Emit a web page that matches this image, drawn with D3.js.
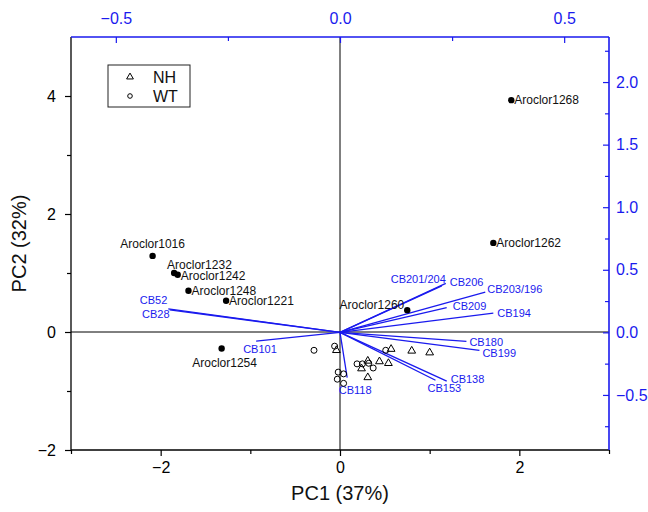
<!DOCTYPE html>
<html>
<head>
<meta charset="utf-8">
<style>
  body { margin: 0; background: #fff; }
  svg text { font-family: "Liberation Sans", Arial, sans-serif; }
</style>
<script src="https://cdn.jsdelivr.net/npm/d3@7"></script>
</head>
<body>
<script>
// ---- data (scores on PC1/PC2, loadings on top/right axes) ----
var scoreNames = ["Aroclor1268", "Aroclor1262", "Aroclor1016", "Aroclor1232", "Aroclor1242",
                  "Aroclor1248", "Aroclor1221", "Aroclor1254", "Aroclor1260"];
var scoreX = [1.91, 1.71, -2.09, -1.85, -1.81, -1.69, -1.27, -1.32, 0.75];
var scoreY = [3.93, 1.51, 1.29, 1.00, 0.97, 0.70, 0.53, -0.28, 0.37];

var nhX = [-0.04, 0.57, 0.24, 0.31, 0.44, 0.54, 0.31, 0.80, 1.00];
var nhY = [-0.31, -0.29, -0.62, -0.49, -0.50, -0.53, -0.77, -0.32, -0.35];
var wtX = [-0.29, -0.06, 0.51, -0.02, 0.04, -0.03, 0.04, 0.19, 0.25, 0.32, 0.37];
var wtY = [-0.31, -0.24, -0.31, -0.68, -0.71, -0.80, -0.87, -0.54, -0.54, -0.53, -0.61];

var loadNames = ["CB52", "CB28", "CB101", "CB118", "CB138", "CB153", "CB180", "CB199",
                 "CB194", "CB209", "CB203/196", "CB206", "CB201/204"];
var loadX = [-0.383, -0.380, -0.187, 0.016, 0.238, 0.213, 0.282, 0.311, 0.342, 0.238, 0.324, 0.236, 0.227];
var loadY = [0.188, 0.180, -0.070, -0.362, -0.390, -0.383, -0.072, -0.144, 0.154, 0.197, 0.322, 0.391, 0.371];

var bottomMajor = [-2, 0, 2], bottomMinor = [-3, -1, 1, 3];
var leftMajor = [-2, 0, 2, 4], leftMinor = [-1, 1, 3];
var topMajor = [-0.5, 0, 0.5], topMinor = [-0.25, 0.25];
var rightMajor = [-0.5, 0, 0.5, 1, 1.5, 2], rightMinor = [-0.75, -0.25, 0.25, 0.75, 1.25, 1.75, 2.25];

var blue = "#1a1aee";

var width = 648, height = 512;
var L = 71, R = 609, T = 37, B = 450;

var x = d3.scaleLinear().domain([-3, 3]).range([L, R]);
var y = d3.scaleLinear().domain([-2, 5]).range([B, T]);
var xT = d3.scaleLinear().domain([-0.6, 0.6]).range([L, R]);
var yR = d3.scaleLinear().domain([-0.94, 2.36]).range([B, T]);

var svg = d3.select("body").append("svg")
    .attr("width", width)
    .attr("height", height);

// zero lines
svg.append("line").attr("x1", L).attr("x2", R).attr("y1", y(0)).attr("y2", y(0))
    .attr("stroke", "#000").attr("stroke-width", 1);
svg.append("line").attr("x1", x(0)).attr("x2", x(0)).attr("y1", T).attr("y2", B)
    .attr("stroke", "#000").attr("stroke-width", 1);

// loadings
var lg = svg.append("g");
lg.selectAll("line").data(loadNames).enter().append("line")
    .attr("x1", xT(0)).attr("y1", yR(0))
    .attr("x2", (d, i) => xT(loadX[i]))
    .attr("y2", (d, i) => yR(loadY[i]))
    .attr("stroke", blue).attr("stroke-width", 1.3);

var loadPos = {
  "CB52": [-1, -9, "end"], "CB28": [0, 4, "end"], "CB101": [-13, 8, "start"],
  "CB118": [8, 12, "middle"], "CB138": [4, -2, "start"], "CB153": [-8, 8, "start"],
  "CB180": [3, 1, "start"], "CB199": [3, 3, "start"], "CB194": [4, 0, "start"],
  "CB209": [6, -2, "start"], "CB203/196": [2, -3, "start"], "CB206": [4, -1, "start"],
  "CB201/204": [4, -7, "end"]
};
lg.selectAll("text").data(loadNames).enter().append("text")
    .attr("x", (d, i) => xT(loadX[i]) + loadPos[d][0])
    .attr("y", (d, i) => yR(loadY[i]) + loadPos[d][1])
    .attr("dy", "0.35em")
    .attr("text-anchor", d => loadPos[d][2])
    .attr("font-size", 11)
    .attr("fill", blue)
    .text(d => d);

// sample points
var tri = d3.symbol().type(d3.symbolTriangle).size(26);
svg.append("g").selectAll("path").data(nhX).enter().append("path")
    .attr("d", tri)
    .attr("transform", (d, i) => "translate(" + x(d) + "," + y(nhY[i]) + ")")
    .attr("fill", "none").attr("stroke", "#000").attr("stroke-width", 1);
svg.append("g").selectAll("circle").data(wtX).enter().append("circle")
    .attr("cx", d => x(d)).attr("cy", (d, i) => y(wtY[i]))
    .attr("r", 3).attr("fill", "none").attr("stroke", "#000").attr("stroke-width", 1);

// aroclor scores
var scorePos = {
  "Aroclor1268": [3, 0, "start"], "Aroclor1262": [3, 0, "start"], "Aroclor1016": [0, -12, "middle"],
  "Aroclor1232": [-7, -8, "start"], "Aroclor1242": [3, 1, "start"], "Aroclor1248": [3, 0, "start"],
  "Aroclor1221": [3, 0, "start"], "Aroclor1254": [3, 14, "middle"], "Aroclor1260": [-3, -5, "end"]
};
var sg = svg.append("g");
sg.selectAll("circle").data(scoreNames).enter().append("circle")
    .attr("cx", (d, i) => x(scoreX[i])).attr("cy", (d, i) => y(scoreY[i]))
    .attr("r", 3.2).attr("fill", "#000");
sg.selectAll("text").data(scoreNames).enter().append("text")
    .attr("x", (d, i) => x(scoreX[i]) + scorePos[d][0])
    .attr("y", (d, i) => y(scoreY[i]) + scorePos[d][1])
    .attr("dy", "0.35em")
    .attr("text-anchor", d => scorePos[d][2])
    .attr("font-size", 12)
    .attr("fill", "#111")
    .text(d => d);

// axes
function styleAxis(g, col, fs) {
  g.select(".domain").remove();
  g.selectAll("line").attr("stroke", col).attr("stroke-width", 1.2);
  g.selectAll("text").attr("fill", col).attr("font-size", fs);
}

var fmt1 = d3.format(".1f");

var gb = svg.append("g").attr("transform", "translate(0," + B + ")");
gb.append("g").call(d3.axisBottom(x).tickValues(bottomMajor).tickSize(6).tickPadding(6).tickFormat(d3.format("d")))
  .call(g => styleAxis(g, "#000", 16));
gb.append("g").call(d3.axisBottom(x).tickValues(bottomMinor).tickSize(4).tickFormat(""))
  .call(g => styleAxis(g, "#000", 16));

var gl = svg.append("g").attr("transform", "translate(" + L + ",0)");
gl.append("g").call(d3.axisLeft(y).tickValues(leftMajor).tickSize(6).tickPadding(9).tickFormat(d3.format("d")))
  .call(g => styleAxis(g, "#000", 16));
gl.append("g").call(d3.axisLeft(y).tickValues(leftMinor).tickSize(4).tickFormat(""))
  .call(g => styleAxis(g, "#000", 16));

var gt = svg.append("g").attr("transform", "translate(0," + T + ")");
gt.append("g").call(d3.axisTop(xT).tickValues(topMajor).tickSizeInner(-6).tickSizeOuter(0).tickPadding(13).tickFormat(fmt1))
  .call(g => styleAxis(g, blue, 16));
gt.append("g").call(d3.axisTop(xT).tickValues(topMinor).tickSizeInner(-4).tickSizeOuter(0).tickFormat(""))
  .call(g => styleAxis(g, blue, 16));

var gr = svg.append("g").attr("transform", "translate(" + R + ",0)");
gr.append("g").call(d3.axisRight(yR).tickValues(rightMajor).tickSizeInner(-6).tickSizeOuter(0).tickPadding(7).tickFormat(fmt1))
  .call(g => styleAxis(g, blue, 16));
gr.append("g").call(d3.axisRight(yR).tickValues(rightMinor).tickSizeInner(-4).tickSizeOuter(0).tickFormat(""))
  .call(g => styleAxis(g, blue, 16));

// frame lines
svg.append("line").attr("x1", L).attr("x2", R).attr("y1", B).attr("y2", B).attr("stroke", "#000").attr("stroke-width", 1.3);
svg.append("line").attr("x1", L).attr("x2", L).attr("y1", T).attr("y2", B).attr("stroke", "#000").attr("stroke-width", 1.3);
svg.append("line").attr("x1", L).attr("x2", R).attr("y1", T).attr("y2", T).attr("stroke", blue).attr("stroke-width", 1.6);
svg.append("line").attr("x1", R).attr("x2", R).attr("y1", T).attr("y2", B).attr("stroke", blue).attr("stroke-width", 1.6);

// axis titles
svg.append("text").attr("x", (L + R) / 2).attr("y", 500)
    .attr("text-anchor", "middle").attr("font-size", 20).attr("fill", "#111")
    .text("PC1 (37%)");
svg.append("text")
    .attr("transform", "translate(26," + ((T + B) / 2) + ") rotate(-90)")
    .attr("text-anchor", "middle").attr("font-size", 20).attr("fill", "#111")
    .text("PC2 (32%)");

// legend
var leg = svg.append("g").attr("transform", "translate(108,65)");
leg.append("rect").attr("width", 82).attr("height", 42)
    .attr("fill", "#fff").attr("stroke", "#222").attr("stroke-width", 1);
leg.append("path").attr("d", d3.symbol().type(d3.symbolTriangle).size(20))
    .attr("transform", "translate(22,12)")
    .attr("fill", "none").attr("stroke", "#000").attr("stroke-width", 1);
leg.append("circle").attr("cx", 22).attr("cy", 31).attr("r", 2.3)
    .attr("fill", "none").attr("stroke", "#000").attr("stroke-width", 1);
leg.append("text").attr("x", 45).attr("y", 12).attr("dy", "0.35em")
    .attr("font-size", 16).attr("fill", "#111").text("NH");
leg.append("text").attr("x", 45).attr("y", 31).attr("dy", "0.35em")
    .attr("font-size", 16).attr("fill", "#111").text("WT");
</script>
</body>
</html>
